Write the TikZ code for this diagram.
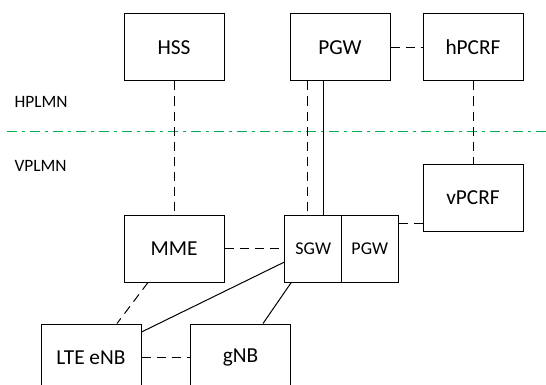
\documentclass[tikz,border=0pt]{standalone}
\usepackage{fontspec}
\setmainfont{Carlito}
\usetikzlibrary{calc}

\begin{document}
\begin{tikzpicture}[x=0.75pt, y=-0.75pt, line width=0.75pt,
  nf/.style={draw, minimum width=75pt, minimum height=50.25pt, inner sep=0pt, font=\fontsize{16}{19}\selectfont},
  gw/.style={draw, minimum width=42.4pt, minimum height=50.25pt, inner sep=0pt, font=\fontsize{13.5}{16}\selectfont},
  plmn/.style={anchor=base west, inner sep=0pt, font=\fontsize{13}{16}\selectfont},
  dsh/.style={dash pattern=on 6.75pt off 4.5pt},
  border/.style={draw={rgb,255:red,0;green,176;blue,80}, dash pattern=on 7.5pt off 3.75pt on 2.25pt off 3.75pt}]
\useasboundingbox (0,0) rectangle (546,385);
\clip (0,0) rectangle (546,385);

\node [nf] (hss) at (174,47.5) {HSS};
\node [nf] (pgwh) at (340,47.5) {PGW};
\node [nf] (hpcrf) at (473,47.5) {hPCRF};
\node [nf] (vpcrf) at (473,197.5) {vPCRF};
\node [nf] (mme) at (174,248.5) {MME};
\node [gw] (sgw) at (313.25,248.5) {SGW};
\node [gw] (pgwv) at (369.75,248.5) {PGW};
\node [nf] (enb) at (91,357.5) {LTE eNB};
\node [nf] (gnb) at (240.5,357.5) {gNB};

\node [plmn] (hplmn) at (14,108) {HPLMN};
\node [plmn] (vplmn) at (14,171) {VPLMN};
\draw [border] (7,131) -- (546,131);

\draw [dsh] (hss) -- (mme);
\draw [dsh] (pgwh) -- (hpcrf);
\draw [dsh] (hpcrf) -- (vpcrf);
\draw [dsh] (mme) -- (sgw);
\draw [dsh] (enb) -- (gnb);
\coordinate (pv) at ($(pgwv.east)+(0,-25.5)$);
\draw [dsh] (pv) -- (pv -| vpcrf.west);
\coordinate (pd) at ($(pgwh.south)+(-33,0)$);
\coordinate (ps) at ($(pgwh.south)+(-17,0)$);
\draw [dsh] (pd) -- (pd |- sgw.north);
\draw (ps) -- (ps |- sgw.north);
\draw [dsh] ($(mme.south)+(-26,0)$) -- ($(enb.north)+(26,0)$);
\draw ($(sgw.west)+(0,13.5)$) -- ($(enb.east)+(0,-25.5)$);
\draw ($(sgw.south)+(-22,0)$) -- ($(gnb.north)+(22.5,0)$);
\end{tikzpicture}
\end{document}
